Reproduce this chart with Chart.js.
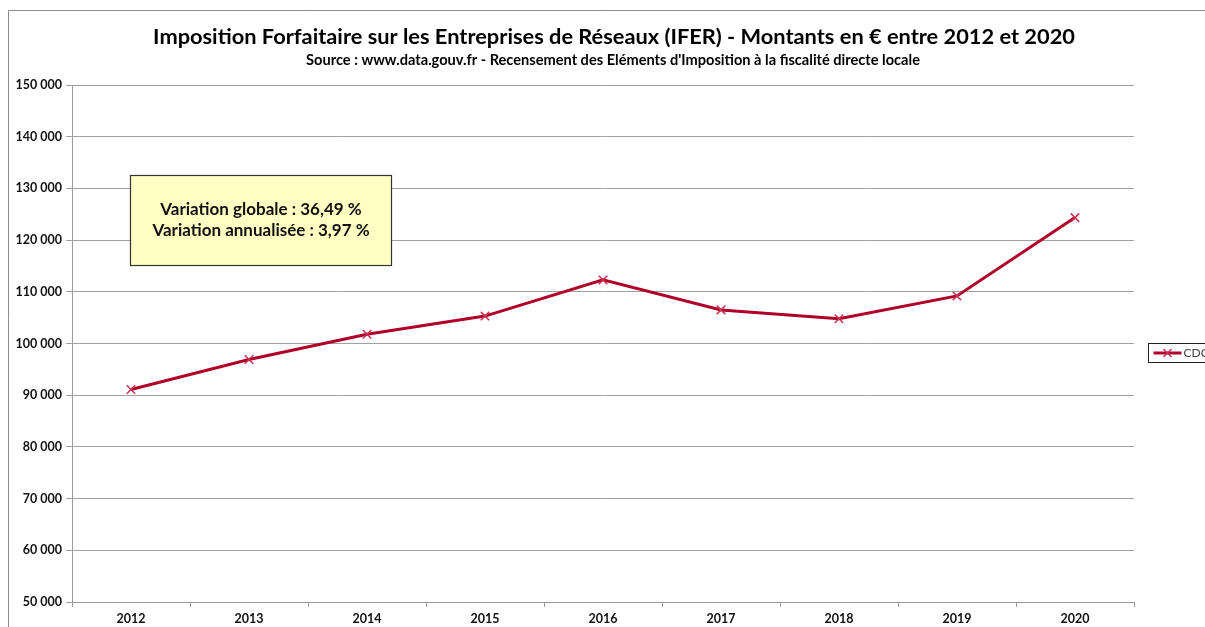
<!DOCTYPE html>
<html>
<head>
<meta charset="utf-8">
<script src="https://cdn.jsdelivr.net/npm/chart.js@4"></script>
<style>
  html, body { margin: 0; padding: 0; background: #fff; }
  #wrap { width: 1205px; height: 627px; position: relative; }
</style>
</head>
<body>
<div id="wrap"><canvas id="iferChart" width="1205" height="627"></canvas></div>
<script>
const years = ['2012', '2013', '2014', '2015', '2016', '2017', '2018', '2019', '2020'];
const cdcValues = [91100, 96900, 101800, 105300, 112300, 106500, 104800, 109200, 124350];
const yTicks = [50000, 60000, 70000, 80000, 90000, 100000, 110000, 120000, 130000, 140000, 150000];
const noteLines = ['Variation globale : 36,49 %', 'Variation annualisée : 3,97 %'];
const seriesName = 'CDC';
const titleText = 'Imposition Forfaitaire sur les Entreprises de Réseaux (IFER) - Montants en € entre 2012 et 2020';
const subtitleText = "Source : www.data.gouv.fr - Recensement des Eléments d'Imposition à la fiscalité directe locale";

const FONT = 'Lato, "Open Sans", sans-serif';
const lineColor = 'rgb(176, 0, 42)';

function formatThousands(v) {
  return String(v).replace(/\B(?=(\d{3})+(?!\d))/g, ' ');
}

// frame, titles, note box and legend box (Excel style)
const decorPlugin = {
  id: 'decor',
  beforeDraw(chart) {
    const ctx = chart.ctx;
    ctx.save();
    ctx.strokeStyle = '#8c8c8c';
    ctx.lineWidth = 1;
    ctx.beginPath();
    ctx.moveTo(8.5, chart.height);
    ctx.lineTo(8.5, 10.5);
    ctx.lineTo(chart.width, 10.5);
    ctx.stroke();

    ctx.fillStyle = '#000';
    ctx.textAlign = 'center';
    ctx.textBaseline = 'middle';
    ctx.font = 'bold 21.8px ' + FONT;
    ctx.fillText(titleText, 614, 37);
    ctx.font = 'bold 14.6px ' + FONT;
    ctx.fillText(subtitleText, 613, 60);
    ctx.restore();
  },
  afterDraw(chart) {
    const ctx = chart.ctx;
    ctx.save();
    // note box
    const bx = 130.5, by = 175.5, bw = 261, bh = 90;
    ctx.fillStyle = '#ffffc4';
    ctx.fillRect(bx, by, bw, bh);
    ctx.strokeStyle = '#333';
    ctx.lineWidth = 1.2;
    ctx.strokeRect(bx, by, bw, bh);
    ctx.fillStyle = '#111';
    ctx.font = 'bold 17px ' + FONT;
    ctx.textAlign = 'center';
    ctx.textBaseline = 'middle';
    noteLines.forEach((t, i) => ctx.fillText(t, bx + bw / 2, 210 + i * 21));

    // legend
    const lx = 1148.5, ly = 343.5;
    ctx.strokeStyle = '#222';
    ctx.lineWidth = 1;
    ctx.strokeRect(lx, ly, 70, 19);
    ctx.strokeStyle = lineColor;
    ctx.lineWidth = 3;
    ctx.beginPath();
    ctx.moveTo(lx + 5, ly + 9.5);
    ctx.lineTo(lx + 33, ly + 9.5);
    ctx.stroke();
    ctx.strokeStyle = 'rgb(200, 50, 85)';
    ctx.lineWidth = 1.5;
    ctx.beginPath();
    ctx.moveTo(lx + 15, ly + 5.5); ctx.lineTo(lx + 23, ly + 13.5);
    ctx.moveTo(lx + 23, ly + 5.5); ctx.lineTo(lx + 15, ly + 13.5);
    ctx.stroke();
    ctx.fillStyle = '#444';
    ctx.font = '12px ' + FONT;
    ctx.textAlign = 'left';
    ctx.fillText(seriesName, lx + 35, ly + 10);
    ctx.restore();
  }
};

new Chart(document.getElementById('iferChart'), {
  type: 'line',
  data: {
    labels: years,
    datasets: [{
      label: seriesName,
      data: cdcValues,
      borderColor: lineColor,
      borderWidth: 3,
      tension: 0,
      pointStyle: 'crossRot',
      pointRadius: 6,
      pointBorderWidth: 1.5,
      pointBorderColor: 'rgb(200, 50, 85)',
      pointBackgroundColor: 'rgb(200, 50, 85)'
    }]
  },
  plugins: [decorPlugin],
  options: {
    responsive: false,
    animation: false,
    layout: { padding: { left: 0, right: 71, top: 85, bottom: 0 } },
    plugins: {
      legend: { display: false },
      tooltip: { enabled: false },
      title: { display: false },
      subtitle: { display: false }
    },
    scales: {
      x: {
        type: 'category',
        offset: true,
        grid: {
          display: true,
          offset: true,
          drawOnChartArea: false,
          drawTicks: true,
          tickLength: 5,
          color: '#9a9a9a'
        },
        border: { display: true, color: '#9a9a9a' },
        ticks: {
          color: '#111',
          font: { family: FONT, size: 12.5, weight: 'bold' },
          padding: 4,
          maxRotation: 0
        },
        afterFit(scale) { scale.height = 25; }
      },
      y: {
        min: 50000,
        max: 150000,
        afterBuildTicks(scale) { scale.ticks = yTicks.map(v => ({ value: v })); },
        grid: {
          color: '#a0a0a0',
          lineWidth: 1,
          drawTicks: true,
          tickLength: 6
        },
        border: { display: true, color: '#9a9a9a' },
        ticks: {
          color: '#111',
          font: { family: FONT, size: 12.5, weight: 'bold' },
          padding: 4,
          callback: v => formatThousands(v)
        },
        afterFit(scale) { scale.width = 72; }
      }
    }
  }
});
</script>
</body>
</html>
